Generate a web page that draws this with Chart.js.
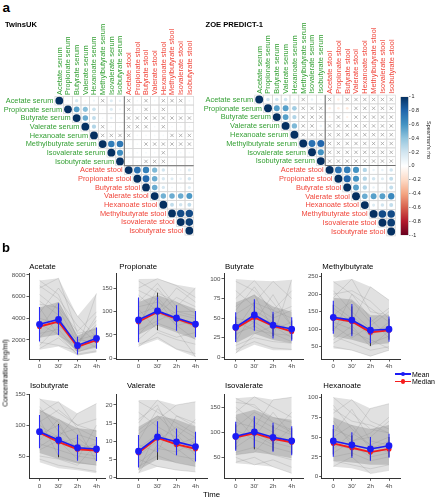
<!DOCTYPE html>
<html>
<head>
<meta charset="utf-8">
<script src="https://cdn.jsdelivr.net/npm/chart.js@4.4.1/dist/chart.umd.min.js"></script>
<style>
  html, body { margin: 0; padding: 0; background: #fff; }
  body { width: 437px; height: 500px; position: relative; overflow: hidden;
         font-family: "Liberation Sans", Arial, sans-serif; }
  canvas { position: absolute; }
  .t { position: absolute; white-space: nowrap; line-height: 1; color: #000; }
  .b { font-weight: bold; }
</style>
</head>
<body>

<script>
/* ============ DATA: panel a (Spearman correlation, upper triangle) ============ */
var metabolites = [
  'Acetate serum', 'Propionate serum', 'Butyrate serum', 'Valerate serum',
  'Hexanoate serum', 'Methylbutyrate serum', 'Isovalerate serum', 'Isobutyrate serum',
  'Acetate stool', 'Propionate stool', 'Butyrate stool', 'Valerate stool',
  'Hexanoate stool', 'Methylbutyrate stool', 'Isovalerate stool', 'Isobutyrate stool'
];
/* each row starts at the diagonal; null = not significant (drawn as a cross) */
var twinsRho = [
  [1, .05, .18, -.05, .08, null, .15, .1, null, .05, null, .05, null, null, null, .06],
  [1, .55, .42, .22, .05, .15, .08, null, .05, null, .05, null, .05, .06, .05],
  [1, .5, .25, .05, .1, .05, null, null, null, null, null, null, null, null],
  [1, .3, null, .05, .05, null, null, null, .05, null, .05, .05, .05],
  [1, null, null, null, null, .05, .05, .05, .05, null, null, null],
  [1, .7, .72, .05, .05, null, null, null, null, null, null],
  [1, .62, .05, .05, .05, .05, null, .05, .05, .05],
  [1, .05, .05, null, null, null, .05, .05, .05],
  [1, .75, .68, .45, .2, .08, .06, .15],
  [1, .78, .5, .18, .15, .1, .2],
  [1, .5, .18, .06, .05, .15],
  [1, .48, .5, .5, .58],
  [1, .25, .2, .25],
  [1, .9, .9],
  [1, .95],
  [1]
];
var zoeRho = [
  [1, .2, .2, .2, .1, null, .1, .08, null, -.1, null, null, null, null, null, null],
  [1, .55, .55, .35, null, null, null, -.1, -.1, -.12, null, null, null, null, null],
  [1, .55, .3, null, null, null, -.08, null, -.08, null, null, null, null, null],
  [1, .45, null, null, .1, null, null, null, null, null, null, null, null],
  [1, null, null, null, null, null, null, null, null, null, null, null],
  [1, .75, .8, null, null, null, null, null, null, null, null],
  [1, .6, null, null, null, null, null, null, null, null],
  [1, null, null, null, null, null, null, null, null],
  [1, .75, .7, .6, .3, .1, .1, .2],
  [1, .8, .6, .3, .2, .15, .25],
  [1, .55, .3, .1, .05, .25],
  [1, .5, .55, .55, .65],
  [1, .15, .2, .25],
  [1, .9, .9],
  [1, .95],
  [1]
];
var colorbarTicks = [-1, -0.8, -0.6, -0.4, -0.2, 0, 0.2, 0.4, 0.6, 0.8, 1];

/* ============ DATA: panel b (time courses) ============ */
var timeLabels = ['0', "30'", '2h', '4h'];
var panelNames = ['Acetate', 'Propionate', 'Butyrate', 'Methylbutyrate',
                  'Isobutyrate', 'Valerate', 'Isovalerate', 'Hexanoate'];
var yTicks = [
  [2000, 4000, 6000, 8000], [0, 50, 100, 150], [0, 25, 50, 75, 100], [50, 100, 150, 200, 250],
  [50, 100, 150], [0, 5, 10, 15, 20], [50, 100, 150], [0, 25, 50, 75, 100]
];
var yRange = [
  [246, 8138], [-1.5, 181], [-2.2, 107], [14.9, 259],
  [13.9, 150.5], [-0.28, 23.04], [8, 176.6], [-2, 104.2]
];
var meanVals = [
  [3450, 3900, 1500, 2150], [82, 101, 86, 73], [38.5, 54, 41, 36], [134, 126, 97, 100],
  [89.5, 76, 63.5, 61.5], [7.2, 11.2, 9.8, 8.5], [92, 101, 90, 83], [45, 40, 35, 39]
];
var medianVals = [
  [3250, 3700, 1380, 1980], [78, 99, 84, 71], [37, 51, 40, 33], [131, 122, 91, 97],
  [88, 73, 61, 59], [6.8, 10.9, 9.1, 7.9], [90, 98, 87, 80], [42, 36.5, 31, 35]
];
var meanLo = [
  [1850, 2450, 650, 1200], [34, 71, 59, 45], [19.5, 34, 24, 21], [87, 80, 60, 64],
  [62.5, 52, 42.5, 42], [2.7, 6.9, 6.1, 4.4], [63, 70, 61, 54], [25, 24, 20, 24]
];
var meanHi = [
  [5050, 5400, 2300, 3150], [130, 131, 113, 101], [57.5, 74, 58, 51], [181, 172, 134, 136],
  [116.5, 100, 84.5, 81], [11.7, 15.5, 13.5, 12.6], [121, 132, 119, 112], [65, 56, 50, 54]
];
var medianLo = [
  [2000, 2600, 800, 1300], [45, 60, 62, 50], [23, 38, 27, 23], [95, 85, 52, 70],
  [66, 48, 45, 45], [3.5, 4.8, 6.5, 5], [66, 66, 63, 57], [28, 26, 21, 25]
];
var medianHi = [
  [4700, 5000, 2100, 2900], [115, 140, 108, 95], [52, 70, 55, 47], [170, 165, 128, 130],
  [112, 102, 80, 78], [10.5, 15, 12.5, 11.5], [116, 128, 114, 108], [60, 52, 46, 50]
];
/* spread of the individual trajectories (outer = full range, inner = dense core) */
var outerHi = [
  [7500, 7700, 4200, 6300], [169, 170, 157, 150], [100, 98, 97, 99], [236, 243, 221, 183],
  [143, 138, 119, 135], [21.4, 21.4, 20, 20.9], [168, 171, 165, 170], [100, 97, 86, 92]
];
var outerLo = [
  [1100, 1400, 600, 900], [25, 40, 18, 3], [5, 16, 9, 9], [45, 40, 23, 40],
  [40, 30, 27, 22], [1.1, 2.9, 2, 1.5], [38, 35, 31, 18], [12.6, 10.6, 4.3, 8.4]
];
var innerHi = [
  [5000, 5500, 2400, 3200], [120, 135, 120, 105], [70, 80, 65, 58], [190, 185, 140, 140],
  [125, 110, 95, 92], [14, 17, 16, 14], [135, 145, 130, 125], [75, 65, 60, 65]
];
var innerLo = [
  [2200, 2500, 900, 1300], [50, 70, 55, 40], [18, 30, 22, 18], [80, 70, 55, 60],
  [55, 45, 38, 35], [2, 5, 4, 3], [55, 60, 55, 48], [20, 18, 15, 15]
];
var sampleLines = [
  [[7500, 6200, 2000, 2500], [6800, 7700, 2600, 3000], [5600, 4300, 1200, 6300], [4500, 6800, 4200, 2200],
   [2600, 3000, 900, 1500], [1200, 2200, 700, 1000], [5000, 2400, 1500, 4200], [3000, 5500, 2300, 1300],
   [1800, 1500, 1000, 2600], [6200, 4800, 1800, 3800], [4000, 3500, 2000, 1800], [2200, 4000, 1300, 2100],
   [5300, 5000, 2800, 4600], [3500, 2500, 600, 900], [7000, 5800, 3300, 1800], [1500, 3300, 1800, 3400]],
  [[165, 140, 120, 95], [150, 170, 155, 130], [120, 160, 110, 150], [95, 110, 70, 40],
   [60, 80, 100, 90], [30, 45, 20, 10], [40, 75, 60, 3], [135, 100, 150, 120],
   [75, 130, 85, 65], [105, 60, 45, 55], [85, 95, 80, 70], [110, 120, 95, 85],
   [50, 95, 130, 110], [145, 125, 70, 80], [25, 55, 40, 30], [70, 150, 100, 100]],
  [[97, 85, 60, 50], [75, 98, 70, 40], [55, 70, 97, 75], [30, 40, 25, 99],
   [10, 20, 12, 10], [20, 60, 45, 30], [45, 35, 30, 20], [85, 65, 50, 60],
   [5, 30, 40, 25], [65, 80, 35, 45], [40, 50, 45, 35], [28, 45, 30, 28],
   [60, 90, 55, 65], [15, 25, 20, 18], [50, 45, 80, 40], [35, 70, 60, 85]],
  [[236, 200, 160, 120], [190, 243, 150, 140], [160, 120, 221, 183], [120, 100, 60, 80],
   [80, 60, 40, 50], [50, 40, 23, 40], [140, 180, 120, 160], [210, 150, 100, 90],
   [100, 140, 90, 110], [60, 90, 70, 45], [130, 120, 95, 100], [170, 130, 80, 120],
   [90, 200, 130, 75], [110, 75, 110, 150], [200, 210, 180, 130], [70, 110, 50, 95]],
  [[143, 120, 100, 90], [120, 138, 95, 80], [100, 80, 119, 135], [70, 60, 50, 45],
   [45, 35, 30, 25], [85, 100, 60, 70], [130, 90, 70, 60], [60, 75, 45, 100],
   [110, 50, 40, 35], [95, 70, 80, 55], [90, 80, 65, 60], [75, 110, 85, 75],
   [125, 105, 55, 50], [50, 45, 35, 70], [105, 125, 100, 110], [65, 85, 95, 40]],
  [[21, 18, 15, 12], [15, 21.4, 17, 14], [12, 16, 20, 20.9], [8, 12, 9, 7],
   [3, 6, 4, 3], [1.1, 9, 6, 5], [5, 3, 2, 1.5], [18, 14, 11, 16],
   [10, 19, 13, 9], [6, 10, 14, 11], [7, 11, 10, 8], [4, 8, 7, 10],
   [13, 17, 12, 6], [2, 13, 8, 4], [9, 7, 17, 15], [16, 20, 9, 11]],
  [[168, 150, 130, 120], [140, 171, 150, 130], [120, 110, 165, 170], [90, 100, 80, 70],
   [60, 70, 55, 45], [40, 50, 31, 18], [150, 120, 100, 140], [75, 130, 110, 95],
   [105, 85, 70, 60], [50, 35, 45, 30], [92, 100, 90, 85], [110, 140, 120, 100],
   [70, 95, 75, 110], [130, 90, 140, 95], [55, 60, 100, 75], [160, 155, 120, 105]],
  [[100, 80, 60, 55], [80, 97, 70, 60], [60, 50, 86, 92], [40, 35, 30, 35],
   [20, 15, 10, 15], [13, 25, 4, 8], [90, 60, 40, 50], [30, 45, 50, 70],
   [70, 40, 25, 30], [50, 65, 35, 45], [45, 40, 35, 40], [35, 55, 40, 30],
   [65, 45, 55, 75], [25, 30, 20, 25], [55, 85, 45, 40], [85, 70, 65, 55]]
];

/* ============ helpers ============ */
var FONT = '"Liberation Sans", Arial, sans-serif';
var SERUM = '#35a035', STOOL = '#f0453a';
var RDBU = ['#67001F', '#B2182B', '#D6604D', '#F4A582', '#FDDBC7', '#FFFFFF',
            '#D1E5F0', '#92C5DE', '#4393C3', '#2166AC', '#053061'];

function hexRgb(h) { return [1, 3, 5].map(function(i) { return parseInt(h.substr(i, 2), 16); }); }
function rhoColor(v) {
  var t = (v + 1) / 2 * (RDBU.length - 1);
  var i = Math.min(Math.floor(t), RDBU.length - 2), f = t - i;
  var a = hexRgb(RDBU[i]), b = hexRgb(RDBU[i + 1]);
  return 'rgb(' + a.map(function(c, k) { return Math.round(c + (b[k] - c) * f); }).join(',') + ')';
}
function addCanvas(left, top, w, h) {
  var c = document.createElement('canvas');
  c.width = w; c.height = h;
  c.style.left = left + 'px'; c.style.top = top + 'px';
  c.style.width = w + 'px'; c.style.height = h + 'px';
  document.body.appendChild(c);
  return c;
}
function addText(txt, left, top, size, cls, extra) {
  var d = document.createElement('div');
  d.className = 't ' + (cls || '');
  d.textContent = txt;
  d.style.left = left + 'px'; d.style.top = top + 'px'; d.style.fontSize = size + 'px';
  if (extra) Object.keys(extra).forEach(function(k) { d.style[k] = extra[k]; });
  document.body.appendChild(d);
  return d;
}

/* ============ corrplot (bubble chart + grid plugin) ============ */
var corrDecor = {
  id: 'corrDecor',
  beforeDatasetsDraw: function(chart) {
    var ctx = chart.ctx, x = chart.scales.x, y = chart.scales.y;
    var half = (x.getPixelForValue(1) - x.getPixelForValue(0)) / 2;
    var n = metabolites.length;
    ctx.save();
    ctx.strokeStyle = '#d6d6d6';
    ctx.lineWidth = 0.7;
    for (var i = 0; i < n; i++) {
      for (var j = i; j < n; j++) {
        ctx.strokeRect(x.getPixelForValue(j) - half, y.getPixelForValue(i) - half, 2 * half, 2 * half);
      }
    }
    ctx.restore();
  },
  afterDatasetsDraw: function(chart) {
    var ctx = chart.ctx, x = chart.scales.x, y = chart.scales.y;
    var half = (x.getPixelForValue(1) - x.getPixelForValue(0)) / 2;
    var n = metabolites.length;
    ctx.save();
    /* serum / stool separator */
    ctx.strokeStyle = '#6f6f6f';
    ctx.lineWidth = 1;
    ctx.beginPath();
    ctx.moveTo(x.getPixelForValue(7.5), y.getPixelForValue(-0.5));
    ctx.lineTo(x.getPixelForValue(7.5), y.getPixelForValue(7.5));
    ctx.lineTo(x.getPixelForValue(15.5), y.getPixelForValue(7.5));
    ctx.stroke();
    /* labels */
    ctx.font = '7.4px ' + FONT;
    ctx.textBaseline = 'middle';
    for (var i = 0; i < n; i++) {
      ctx.fillStyle = i < 8 ? SERUM : STOOL;
      ctx.textAlign = 'right';
      ctx.fillText(metabolites[i], x.getPixelForValue(i) - half - 1.6, y.getPixelForValue(i) + 0.3);
      ctx.save();
      ctx.translate(x.getPixelForValue(i) + 0.3, y.getPixelForValue(-0.5) - 1.4);
      ctx.rotate(-Math.PI / 2);
      ctx.textAlign = 'left';
      ctx.fillText(metabolites[i], 0, 0);
      ctx.restore();
    }
    ctx.restore();
  }
};

function makeCorr(rho, left, top, w, h, cx0, cy0, cell) {
  var canvas = addCanvas(left, top, w, h);
  var dots = [], crosses = [];
  rho.forEach(function(row, i) {
    row.forEach(function(v, k) {
      var j = i + k;
      if (v === null) crosses.push({ x: j, y: i, r: cell * 0.27 });
      else dots.push({ x: j, y: i, r: cell * 0.45 * Math.sqrt(Math.abs(v)), v: v });
    });
  });
  var n = metabolites.length;
  new Chart(canvas, {
    type: 'bubble',
    data: {
      datasets: [
        { data: dots, borderWidth: 0,
          backgroundColor: function(c) { return c.raw ? rhoColor(c.raw.v) : '#fff'; } },
        { data: crosses, pointStyle: 'crossRot', borderColor: '#9e9e9e', borderWidth: 0.75,
          backgroundColor: 'rgba(0,0,0,0)' }
      ]
    },
    options: {
      responsive: false, animation: false, events: [],
      layout: {
        autoPadding: false,
        padding: {
          left: cx0 - cell / 2 - left,
          top: cy0 - cell / 2 - top,
          right: left + w - (cx0 + (n - 1) * cell + cell / 2),
          bottom: top + h - (cy0 + (n - 1) * cell + cell / 2)
        }
      },
      plugins: { legend: { display: false }, tooltip: { enabled: false } },
      scales: {
        x: { type: 'linear', min: -0.5, max: n - 0.5, display: false },
        y: { type: 'linear', min: -0.5, max: n - 0.5, reverse: true, display: false }
      }
    },
    plugins: [corrDecor]
  });
}

/* ============ colour bar ============ */
function makeColorbar() {
  var left = 395, top = 88, w = 42, h = 154;
  var area = { l: 400.5, r: 408.5, t: 96.7, b: 235.3 };
  var canvas = addCanvas(left, top, w, h);
  var titlePlugin = {
    id: 'cbTitle',
    afterDraw: function(chart) {
      var ctx = chart.ctx;
      ctx.save();
      ctx.translate(428.5 - left, 140 - top);
      ctx.rotate(Math.PI / 2);
      ctx.font = '5.4px ' + FONT;
      ctx.fillStyle = '#222';
      ctx.textAlign = 'center';
      ctx.textBaseline = 'middle';
      ctx.fillText("Spearman's rho", 0, 0);
      ctx.restore();
    }
  };
  new Chart(canvas, {
    type: 'bar',
    data: {
      labels: [''],
      datasets: [{
        data: [[colorbarTicks[0], colorbarTicks[colorbarTicks.length - 1]]],
        barPercentage: 1, categoryPercentage: 1,
        borderWidth: 0.6, borderColor: '#8a8a8a', borderSkipped: false,
        backgroundColor: function(c) {
          var a = c.chart.chartArea;
          if (!a) return '#fff';
          var g = c.chart.ctx.createLinearGradient(0, a.bottom, 0, a.top);
          RDBU.forEach(function(col, i) { g.addColorStop(i / (RDBU.length - 1), col); });
          return g;
        }
      }]
    },
    options: {
      responsive: false, animation: false, events: [],
      layout: { autoPadding: false,
                padding: { left: area.l - left, top: area.t - top, right: 0, bottom: top + h - area.b } },
      plugins: { legend: { display: false }, tooltip: { enabled: false } },
      scales: {
        x: { display: false },
        y: {
          position: 'right', min: -1, max: 1,
          afterBuildTicks: function(s) { s.ticks = colorbarTicks.map(function(v) { return { value: v }; }); },
          afterFit: function(s) { s.width = left + w - area.r; },
          ticks: { font: { size: 5.4, family: FONT }, color: '#222', padding: 1,
                   callback: function(v) { return String(v); } },
          grid: { drawOnChartArea: false, drawTicks: true, tickLength: 2, tickColor: '#555', tickWidth: 0.6 },
          border: { display: false }
        }
      }
    },
    plugins: [titlePlugin]
  });
}

/* ============ time-course panels ============ */
var panelGeo = {
  cols: [
    { axis: 29, t0: 39.5, t3: 96.5, right: 105 },
    { axis: 116, t0: 138.5, t3: 195.5, right: 207 },
    { axis: 224, t0: 235.7, t3: 291.7, right: 303.3 },
    { axis: 321.7, t0: 333.3, t3: 389, right: 400 }
  ],
  rows: [{ top: 273.5, bottom: 359 }, { top: 394, bottom: 478.3 }],
  titleX: [[29.3, 119.3, 225, 322.3], [30, 127, 225, 323.3]],
  titleTop: [262.7, 382.4]
};

function pts(arr) { return arr.map(function(v, i) { return { x: i, y: v }; }); }
function whiskers(lo, hi) {
  var d = [];
  lo.forEach(function(v, i) { d.push({ x: i, y: v }, { x: i, y: hi[i] }, { x: i, y: null }); });
  return d;
}

function makePanel(k) {
  var col = panelGeo.cols[k % 4], row = panelGeo.rows[Math.floor(k / 4)];
  var cl = Math.floor(col.axis - 30), ct = Math.floor(row.top - 8);
  var cw = Math.ceil(col.right + 5) - cl, ch = Math.ceil(row.bottom + 16) - ct;
  var unit = (col.t3 - col.t0) / 3;
  var canvas = addCanvas(cl, ct, cw, ch);

  var base = { tension: 0, pointRadius: 0, borderWidth: 0, fill: false };
  function ds(o) { return Object.assign({}, base, o); }

  var sets = [
    ds({ data: pts(meanVals[k]), borderColor: '#1c1cf5', backgroundColor: '#1c1cf5',
         borderWidth: 1.6, pointRadius: 2.6, order: 0 }),
    ds({ data: whiskers(meanLo[k], meanHi[k]), borderColor: '#2a2af5', borderWidth: 1.1,
         spanGaps: false, order: 1 }),
    ds({ data: pts(medianVals[k]), borderColor: '#f51c1c', backgroundColor: '#f51c1c',
         borderWidth: 1.9, pointRadius: 1.6, order: 2 }),
    ds({ data: whiskers(medianLo[k], medianHi[k]), borderColor: '#111', borderWidth: 0.8,
         spanGaps: false, order: 3 })
  ];
  sampleLines[k].forEach(function(line) {
    sets.push(ds({ data: pts(line), borderColor: 'rgba(140,140,140,0.5)', borderWidth: 0.5, order: 4 }));
  });
  sets.push(ds({ data: pts(innerHi[k]), fill: '+1', backgroundColor: '#bfbfbf', order: 5 }));
  sets.push(ds({ data: pts(innerLo[k]), order: 5 }));
  sets.push(ds({ data: pts(outerHi[k]), fill: '+1', backgroundColor: '#e1e1e1', order: 6 }));
  sets.push(ds({ data: pts(outerLo[k]), order: 6 }));

  var tickFont = { size: 6.2, family: FONT };
  var gridOpt = { drawOnChartArea: false, drawTicks: true, tickLength: 2.5, tickColor: '#333', tickWidth: 0.8 };
  new Chart(canvas, {
    type: 'line',
    data: { datasets: sets },
    options: {
      responsive: false, animation: false, events: [],
      layout: { autoPadding: false,
                padding: { left: 0, top: row.top - ct, right: cl + cw - col.right, bottom: 0 } },
      plugins: { legend: { display: false }, tooltip: { enabled: false } },
      scales: {
        x: {
          type: 'linear',
          min: -(col.t0 - col.axis) / unit,
          max: 3 + (col.right - col.t3) / unit,
          afterBuildTicks: function(s) { s.ticks = timeLabels.map(function(_, i) { return { value: i }; }); },
          afterFit: function(s) { s.height = ct + ch - row.bottom; },
          ticks: { font: tickFont, color: '#4d4d4d', padding: 1.5, maxRotation: 0, autoSkip: false,
                   callback: function(v) { return timeLabels[v]; } },
          grid: gridOpt,
          border: { color: '#333', width: 1 }
        },
        y: {
          type: 'linear', min: yRange[k][0], max: yRange[k][1],
          afterBuildTicks: function(s) { s.ticks = yTicks[k].map(function(v) { return { value: v }; }); },
          afterFit: function(s) { s.width = col.axis - cl; },
          ticks: { font: tickFont, color: '#4d4d4d', padding: 1,
                   callback: function(v) { return String(v); } },
          grid: gridOpt,
          border: { color: '#333', width: 1 }
        }
      }
    }
  });
  var r = Math.floor(k / 4);
  addText(panelNames[k], panelGeo.titleX[r][k % 4], panelGeo.titleTop[r], 7.8);
}

/* ============ build ============ */
makeCorr(twinsRho, 0, 20, 200, 220, 59.3, 100.7, 8.67);
makeCorr(zoeRho, 200, 20, 200, 220, 259.2, 99.5, 8.8);
makeColorbar();
for (var k = 0; k < panelNames.length; k++) makePanel(k);

addText('a', 2.5, 0.5, 13.5, 'b');
addText('TwinsUK', 5, 20.5, 7.6, 'b');
addText('ZOE PREDICT-1', 205.5, 20.5, 7.6, 'b');
addText('b', 2, 240.5, 13, 'b');
addText('Concentration (ng/ml)', 5, 373.3, 7, '',
        { transform: 'translate(-50%,-50%) rotate(-90deg)', transformOrigin: 'center' });
addText('Time', 203, 490.7, 7.8);

/* legend */
var legendItems = [['Mean', '#1c1cf5', 374], ['Median', '#f51c1c', 381.7]];
legendItems.forEach(function(it) {
  var line = document.createElement('div');
  line.style.cssText = 'position:absolute;left:395px;width:16px;height:1.6px;top:' + (it[2] - 0.8) +
    'px;background:' + it[1];
  document.body.appendChild(line);
  var dot = document.createElement('div');
  dot.style.cssText = 'position:absolute;left:400.7px;width:4.6px;height:4.6px;border-radius:50%;top:' +
    (it[2] - 2.3) + 'px;background:' + it[1];
  document.body.appendChild(dot);
  addText(it[0], 412, it[2] - 3.4, 7);
});
</script>
</body>
</html>
